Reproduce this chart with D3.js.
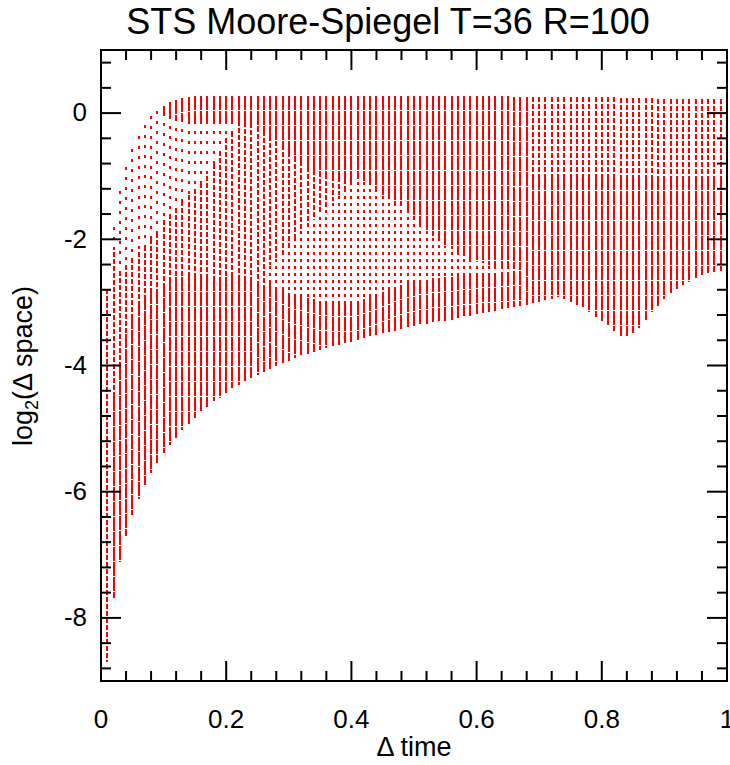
<!DOCTYPE html>
<html><head><meta charset="utf-8">
<script src="https://cdn.jsdelivr.net/npm/d3@7"></script>
<style>body{margin:0;background:#fff}</style>
</head><body>
<svg id="c" width="730" height="765"></svg>
<script>
// ---------- data ----------
const lags = [0.01,0.02,0.03,0.04,0.05,0.06,0.07,0.08,0.09,0.10,
0.11,0.12,0.13,0.14,0.15,0.16,0.17,0.18,0.19,0.20,
0.21,0.22,0.23,0.24,0.25,0.26,0.27,0.28,0.29,0.30,
0.31,0.32,0.33,0.34,0.35,0.36,0.37,0.38,0.39,0.40,
0.41,0.42,0.43,0.44,0.45,0.46,0.47,0.48,0.49,0.50,
0.51,0.52,0.53,0.54,0.55,0.56,0.57,0.58,0.59,0.60,
0.61,0.62,0.63,0.64,0.65,0.66,0.67,0.68,0.69,0.70,
0.71,0.72,0.73,0.74,0.75,0.76,0.77,0.78,0.79,0.80,
0.81,0.82,0.83,0.84,0.85,0.86,0.87,0.88,0.89,0.90,
0.91,0.92,0.93,0.94,0.95,0.96,0.97,0.98,0.99];

// highest percentile per time lag
const topVal = [-2.79,-1.80,-1.24,-0.86,-0.57,-0.36,-0.19,-0.05,0.03,0.12,
0.17,0.20,0.24,0.26,0.27,0.27,0.27,0.27,0.27,0.27,
0.27,0.27,0.27,0.27,0.27,0.27,0.27,0.27,0.27,0.27,
0.27,0.27,0.27,0.27,0.27,0.27,0.27,0.27,0.27,0.27,
0.27,0.27,0.27,0.27,0.27,0.27,0.27,0.27,0.27,0.27,
0.27,0.27,0.27,0.27,0.27,0.27,0.27,0.27,0.27,0.27,
0.27,0.27,0.27,0.27,0.27,0.26,0.26,0.26,0.26,0.26,
0.26,0.26,0.26,0.26,0.26,0.26,0.25,0.25,0.25,0.25,
0.25,0.25,0.24,0.24,0.24,0.24,0.24,0.24,0.23,0.23,
0.23,0.23,0.23,0.23,0.22,0.22,0.22,0.22,0.22];

// lowest percentile per time lag
const bottomVal = [-8.70,-7.69,-7.11,-6.70,-6.37,-6.12,-5.90,-5.70,-5.54,-5.38,
-5.26,-5.15,-5.02,-4.93,-4.83,-4.73,-4.65,-4.57,-4.51,-4.43,
-4.36,-4.31,-4.25,-4.20,-4.15,-4.10,-4.05,-4.01,-3.96,-3.93,
-3.88,-3.85,-3.82,-3.79,-3.76,-3.73,-3.70,-3.67,-3.65,-3.62,
-3.59,-3.57,-3.54,-3.52,-3.49,-3.47,-3.45,-3.42,-3.40,-3.38,
-3.36,-3.34,-3.32,-3.30,-3.29,-3.28,-3.25,-3.22,-3.21,-3.19,
-3.17,-3.16,-3.13,-3.11,-3.09,-3.08,-3.06,-3.04,-3.01,-2.99,
-2.96,-2.95,-2.91,-2.95,-3.00,-3.04,-3.08,-3.15,-3.23,-3.29,
-3.37,-3.45,-3.53,-3.54,-3.49,-3.40,-3.28,-3.16,-3.05,-2.95,
-2.85,-2.78,-2.72,-2.67,-2.62,-2.57,-2.54,-2.52,-2.50];

// lower end of the dense upper band of percentiles (null: none)
const denseTopEnd = [null,null,null,null,null,null,null,null,null,0.00,
-0.05,-0.08,-0.10,-0.12,-0.12,-0.12,-0.12,-0.12,-0.12,-0.12,
-0.12,-0.13,-0.14,-0.16,-0.22,-0.28,-0.36,-0.44,-0.50,-0.62,
-0.70,-0.76,-0.86,-0.90,-0.94,-0.97,-1.00,-1.02,-1.05,-1.05,
-1.05,-1.08,-1.15,-1.22,-1.30,-1.36,-1.42,-1.48,-1.56,-1.65,
-1.75,-1.85,-1.95,-2.03,-2.10,-2.16,-2.22,-2.27,-2.31,-2.35,
-2.38,-2.40,-2.42,-2.44,-2.46,-2.47,-2.48,-2.50,null,null,
null,null,null,null,null,null,null,null,null,null,
null,null,null,null,null,null,null,null,null,null,
null,null,null,null,null,null,null,null,null];

// lower end of the widely spaced (arc) percentiles (null: none)
const arcEnd = [null,-2.20,-2.50,-2.40,-2.30,-2.20,-2.10,-2.00,-1.90,-1.70,
-1.60,-1.50,-1.40,-1.30,-1.20,-1.10,-1.00,-0.80,-0.60,-0.40,
-0.30,null,null,null,null,null,null,null,null,null,
null,null,null,null,null,null,null,null,null,null,
null,null,null,null,null,null,null,null,null,null,
null,null,null,null,null,null,null,null,null,null,
null,null,null,null,null,null,null,null,null,null,
null,null,null,null,null,null,null,null,null,null,
null,null,null,null,null,null,null,null,null,null,
null,null,null,null,null,null,null,null,null];

// start of the dense lower band (null: none)
const denseLowStart = [null,-4.50,-4.00,-3.50,-3.20,-3.00,-2.90,-2.80,-2.80,-2.70,
-2.60,-2.60,-2.60,-2.60,-2.60,-2.60,-2.60,-2.60,-2.60,-2.60,
-2.60,-2.60,-2.60,-2.60,-2.70,-2.75,-2.40,-2.30,-2.20,-2.10,
-2.00,-1.90,-1.80,-1.70,-1.60,-1.50,-1.40,-1.30,-1.20,-1.10,
-1.05,-1.08,-1.15,-1.22,-1.30,-1.36,-1.42,-1.48,-1.56,-1.65,
-1.75,-1.85,-1.95,-2.03,-2.10,-2.16,-2.22,-2.27,-2.31,-2.35,
-2.38,-2.40,-2.42,-2.44,-2.46,-2.47,-2.48,-2.50,-1.00,-1.00,
-1.00,-1.00,-1.00,-1.00,-1.00,-1.00,-1.00,-1.00,-1.00,-1.00,
-1.00,-1.00,-1.00,-1.00,-1.00,-1.00,-1.00,-1.00,-1.00,-1.00,
-1.00,-1.00,-1.00,-1.00,-1.00,-1.00,-1.00,-1.00,-1.00];

// sparse middle wedge (null: none)
const wedgeTop = [null,null,null,null,null,null,null,null,null,null,
null,null,null,null,null,null,null,null,null,null,
null,null,null,null,null,null,-2.40,-2.30,-2.20,-2.10,
-2.00,-1.90,-1.80,-1.70,-1.60,-1.50,-1.40,-1.30,-1.20,-1.10,
-1.05,-1.08,-1.15,-1.22,-1.30,-1.36,-1.42,-1.48,-1.56,-1.65,
-1.75,-1.85,-1.95,-2.03,-2.10,-2.16,-2.22,-2.27,-2.31,-2.35,
-2.38,-2.40,-2.42,-2.44,-2.46,-2.47,-2.48,null,null,null,
null,null,null,null,null,null,null,null,null,null,
null,null,null,null,null,null,null,null,null,null,
null,null,null,null,null,null,null,null,null];
const wedgeBottom = [null,null,null,null,null,null,null,null,null,null,
null,null,null,null,null,null,null,null,null,null,
null,null,null,null,null,null,-2.70,-2.75,-2.80,-2.85,
-2.88,-2.90,-2.93,-2.95,-2.97,-2.98,-3.00,-3.00,-3.00,-3.00,
-2.98,-2.95,-2.92,-2.88,-2.84,-2.80,-2.76,-2.72,-2.69,-2.67,
-2.65,-2.64,-2.62,-2.61,-2.60,-2.59,-2.58,-2.57,-2.56,-2.55,
-2.54,-2.53,-2.53,-2.52,-2.52,-2.51,-2.51,null,null,null,
null,null,null,null,null,null,null,null,null,null,
null,null,null,null,null,null,null,null,null,null,
null,null,null,null,null,null,null,null,null];

const xMajor = [0,0.2,0.4,0.6,0.8,1];
const xMinor = [0.04,0.08,0.12,0.16,0.24,0.28,0.32,0.36,0.44,0.48,0.52,0.56,0.64,0.68,0.72,0.76,0.84,0.88,0.92,0.96];
const yMajor = [-8,-6,-4,-2,0];
const yMinor = [-8.8,-8.4,-7.6,-7.2,-6.8,-6.4,-5.6,-5.2,-4.8,-4.4,-3.6,-3.2,-2.8,-2.4,-1.6,-1.2,-0.8,-0.4,0.4,0.8];

const arrs = [topVal,bottomVal,denseTopEnd,arcEnd,denseLowStart,wedgeTop,wedgeBottom];
arrs.forEach((a,i)=>{ if(a.length!==lags.length) throw new Error('array '+i+' length '+a.length); });

// ---------- drawing ----------
const FONT = '"Liberation Sans", Arial, Helvetica, sans-serif';
const svg = d3.select('#c');
const x = d3.scaleLinear().domain([0,1]).range([101,727]);
const y = d3.scaleLinear().domain([-9,1]).range([681,50]);

const PAT = {dense:[14,1], medium:[5,2], arc:[3,7], wedge:[3,4]};

const segs = [];
lags.forEach((t,i)=>{
  const hi = topVal[i], lo = bottomVal[i];
  const d1 = denseTopEnd[i], s1 = arcEnd[i], d2 = denseLowStart[i];
  const wt = wedgeTop[i], wb = wedgeBottom[i];
  let bps = [hi, lo, d1, s1, d2, wt, wb].filter(v => v !== null && v <= hi && v >= lo);
  bps = Array.from(new Set(bps)).sort((a,b)=>b-a);
  const typeAt = m => {
    if (wt !== null && m < wt && m > wb) return 'wedge';
    if (d1 !== null && m > d1) return 'dense';
    if (s1 !== null && m > s1) return 'arc';
    if (d2 === null || m > d2) return 'medium';
    return 'dense';
  };
  let cur = null;
  for (let j=0;j<bps.length-1;j++){
    const a = bps[j], b = bps[j+1];
    const tp = typeAt((a+b)/2);
    if (cur && cur.type===tp) { cur.lo = b; }
    else { cur = {t, hi:a, lo:b, type:tp}; segs.push(cur); }
  }
});

svg.append('g').selectAll('line').data(segs).join('line')
  .attr('x1', d => Math.round(x(d.t)))
  .attr('x2', d => Math.round(x(d.t)))
  .attr('y1', d => Math.round(y(d.hi)))
  .attr('y2', d => Math.round(y(d.lo)))
  .attr('stroke', '#ff0000')
  .attr('stroke-width', 2)
  .attr('shape-rendering', 'crispEdges')
  .attr('stroke-dasharray', d => PAT[d.type].join(','))
  .attr('stroke-dashoffset', d => {
    if (d.type === 'wedge') { const p = PAT.wedge[0]+PAT.wedge[1]; return Math.round(y(d.hi)) % p; }
    return 0;
  });

function drawAxis(gen, transform, withLabels){
  const g = svg.append('g').attr('transform', transform).call(gen);
  g.select('.domain').remove();
  g.selectAll('.tick line').attr('stroke','#000').attr('stroke-width',2);
  g.attr('font-family', FONT).attr('font-size', 26);
  g.selectAll('text').attr('fill','#000');
  if(!withLabels) g.selectAll('text').remove();
  return g;
}
const fmt = d => String(d);
drawAxis(d3.axisBottom(x).tickValues(xMajor).tickFormat(fmt).tickSize(-20).tickPadding(29).offset(0), 'translate(0,681)', true);
drawAxis(d3.axisBottom(x).tickValues(xMinor).tickFormat('').tickSize(-10).offset(0), 'translate(0,681)', false);
drawAxis(d3.axisTop(x).tickValues(xMajor).tickFormat('').tickSize(-20).offset(0), 'translate(0,50)', false);
drawAxis(d3.axisTop(x).tickValues(xMinor).tickFormat('').tickSize(-10).offset(0), 'translate(0,50)', false);
drawAxis(d3.axisLeft(y).tickValues(yMajor).tickFormat(fmt).tickSize(-20).tickPadding(14).offset(0), 'translate(101,0)', true);
drawAxis(d3.axisLeft(y).tickValues(yMinor).tickFormat('').tickSize(-10).offset(0), 'translate(101,0)', false);
drawAxis(d3.axisRight(y).tickValues(yMajor).tickFormat('').tickSize(-20).offset(0), 'translate(727,0)', false);
drawAxis(d3.axisRight(y).tickValues(yMinor).tickFormat('').tickSize(-10).offset(0), 'translate(727,0)', false);

svg.append('rect').attr('x',101).attr('y',50).attr('width',626).attr('height',631)
  .attr('fill','none').attr('stroke','#000').attr('stroke-width',2);

svg.append('text').attr('x',388).attr('y',34).attr('text-anchor','middle')
  .attr('font-family',FONT).attr('font-size',36).attr('fill','#000')
  .text('STS Moore-Spiegel T=36 R=100');

svg.append('text').attr('x',414).attr('y',756).attr('text-anchor','middle')
  .attr('font-family',FONT).attr('font-size',27).attr('fill','#000')
  .text('\u0394 time');

const yl = svg.append('text').attr('transform','translate(32,366) rotate(-90)')
  .attr('text-anchor','middle').attr('font-family',FONT).attr('font-size',27).attr('fill','#000');
yl.append('tspan').text('log');
yl.append('tspan').attr('dy',6).attr('font-size',18).text('2');
yl.append('tspan').attr('dy',-6).text('(\u0394 space)');
</script>
</body></html>
